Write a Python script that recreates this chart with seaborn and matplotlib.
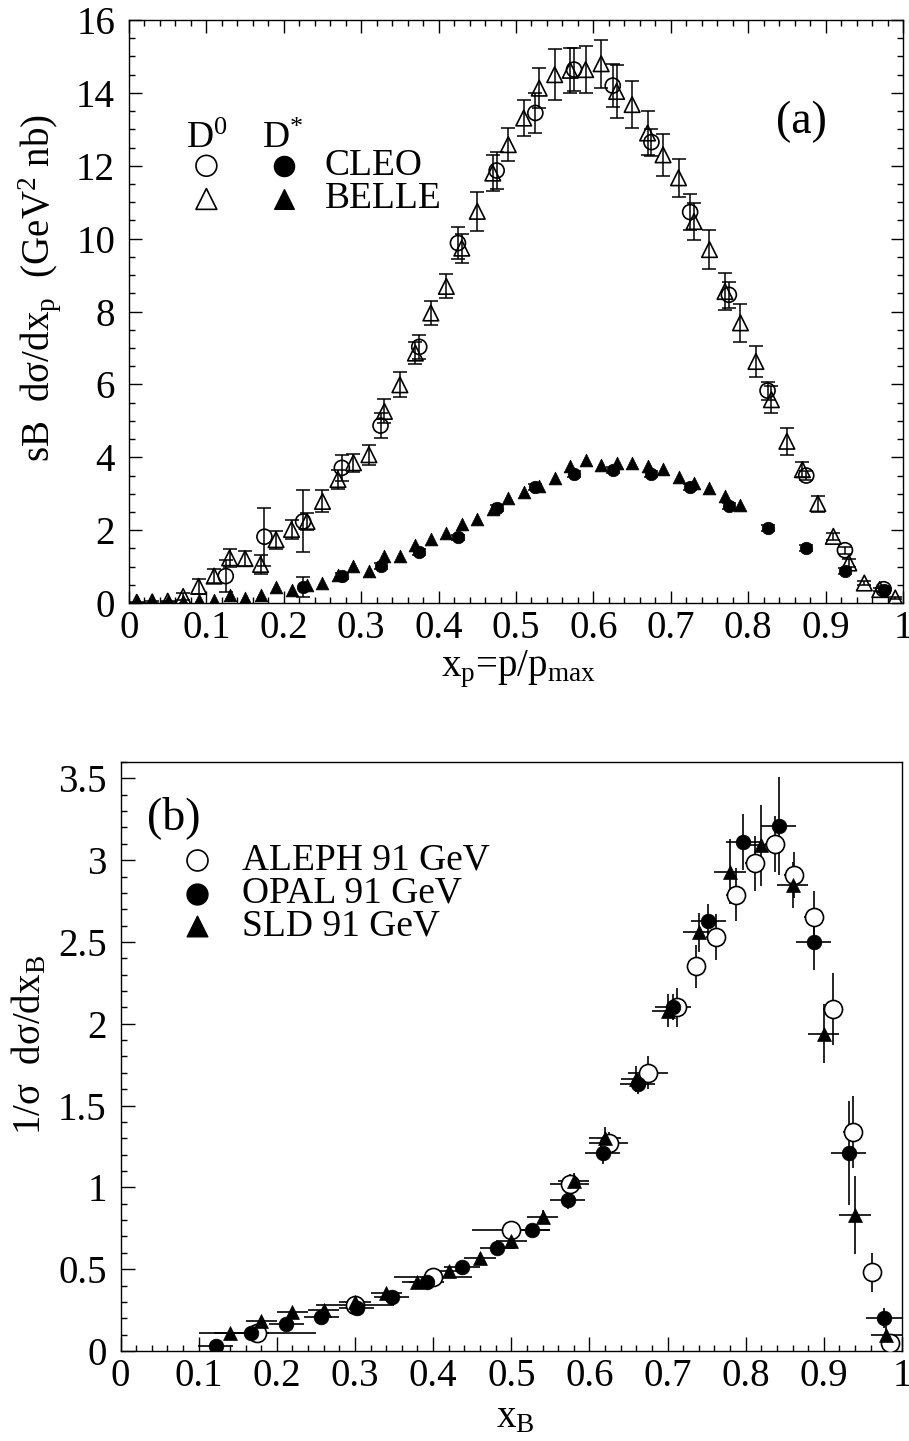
import numpy as np
import pandas as pd
import matplotlib
matplotlib.use("Agg")
import matplotlib.pyplot as plt
from matplotlib.ticker import MultipleLocator, FuncFormatter
import seaborn as sns

# ---------------------------------------------------------
# (a) charm fragmentation, CLEO / BELLE
# ---------------------------------------------------------
cleo_d0_x = [0.125, 0.175, 0.225, 0.275, 0.325, 0.375, 0.425, 0.475, 0.525,
             0.575, 0.625, 0.675, 0.725, 0.775, 0.825, 0.875, 0.925, 0.975]
cleo_d0_y = [0.74, 1.82, 2.24, 3.71, 4.87, 7.03, 9.88, 11.87, 13.45,
             14.64, 14.20, 12.65, 10.73, 8.46, 5.83, 3.50, 1.45, 0.38]
cleo_d0_err = [0.45, 0.80, 0.85, 0.35, 0.35, 0.32, 0.45, 0.50, 0.55,
               0.60, 0.60, 0.37, 0.50, 0.35, 0.25, 0.12, 0.10, 0.08]

belle_d0_x = [round(0.01 + 0.02 * i, 2) for i in range(50)]
belle_d0_y = [0.02, 0.03, 0.05, 0.18, 0.46, 0.74, 1.24, 1.22, 1.06, 1.74,
              2.02, 2.24, 2.79, 3.39, 3.85, 4.07, 5.26, 5.99, 6.86, 7.96,
              8.69, 9.74, 10.75, 11.80, 12.58, 13.31, 14.13, 14.50, 14.62, 14.64,
              14.80, 14.04, 13.68, 12.90, 12.30, 11.67, 10.47, 9.70, 8.55, 7.69,
              6.63, 5.58, 4.44, 3.66, 2.73, 1.83, 1.10, 0.55, 0.37, 0.14]
belle_d0_err = [0.02, 0.02, 0.02, 0.10, 0.20, 0.20, 0.25, 0.20, 0.25, 0.25,
                0.25, 0.23, 0.30, 0.25, 0.25, 0.27, 0.33, 0.34, 0.30, 0.32,
                0.33, 0.40, 0.54, 0.50, 0.46, 0.50, 0.55, 0.70, 0.62, 0.64,
                0.66, 0.73, 0.65, 0.60, 0.57, 0.52, 0.52, 0.53, 0.50, 0.52,
                0.42, 0.37, 0.37, 0.20, 0.22, 0.10, 0.10, 0.05, 0.05, 0.03]

cleo_ds_x = [0.225, 0.275, 0.325, 0.375, 0.425, 0.475, 0.525, 0.575,
             0.625, 0.675, 0.725, 0.775, 0.825, 0.875, 0.925, 0.975]
cleo_ds_y = [0.44, 0.74, 1.01, 1.40, 1.80, 2.61, 3.18, 3.55,
             3.66, 3.55, 3.18, 2.66, 2.06, 1.51, 0.89, 0.35]
cleo_ds_err = [0.28, 0.08, 0.08, 0.08, 0.08, 0.08, 0.08, 0.08,
               0.08, 0.08, 0.08, 0.08, 0.08, 0.08, 0.08, 0.05]

belle_ds_x = [round(0.01 + 0.02 * i, 2) for i in range(40)]
belle_ds_y = [0.05, 0.05, 0.05, 0.05, 0.08, 0.08, 0.23, 0.15, 0.23, 0.44,
              0.37, 0.50, 0.56, 0.78, 1.01, 0.87, 1.28, 1.28, 1.60, 1.76,
              1.93, 2.18, 2.32, 2.58, 2.87, 3.04, 3.20, 3.43, 3.75, 3.92,
              3.80, 3.85, 3.83, 3.75, 3.68, 3.45, 3.30, 3.16, 2.93, 2.68]

# ---------------------------------------------------------
# (b) b fragmentation at 91 GeV
# ---------------------------------------------------------
aleph_x = [0.175, 0.300, 0.400, 0.500, 0.575, 0.625, 0.675, 0.712, 0.737, 0.762,
           0.787, 0.812, 0.837, 0.862, 0.887, 0.912, 0.937, 0.962, 0.985]
aleph_y = [0.11, 0.28, 0.45, 0.74, 1.02, 1.27, 1.70, 2.10, 2.35, 2.53,
           2.79, 2.98, 3.10, 2.91, 2.65, 2.09, 1.34, 0.48, 0.05]
aleph_xerr = [0.075, 0.05, 0.05, 0.05, 0.025, 0.025, 0.025, 0.0125, 0.0125, 0.0125,
              0.0125, 0.0125, 0.0125, 0.0125, 0.0125, 0.0125, 0.0125, 0.0125, 0.0125]
aleph_yerr = [0.03, 0.03, 0.03, 0.05, 0.06, 0.07, 0.10, 0.12, 0.13, 0.14,
              0.16, 0.17, 0.17, 0.14, 0.16, 0.22, 0.22, 0.12, 0.03]

opal_x = [0.122, 0.167, 0.212, 0.257, 0.302, 0.347, 0.392, 0.437, 0.482, 0.527,
          0.572, 0.617, 0.662, 0.707, 0.752, 0.797, 0.842, 0.887, 0.932, 0.977]
opal_y = [0.03, 0.11, 0.165, 0.21, 0.26, 0.33, 0.42, 0.515, 0.63, 0.74,
          0.92, 1.21, 1.63, 2.10, 2.63, 3.11, 3.21, 2.50, 1.21, 0.20]
opal_yerr = [0.02, 0.02, 0.02, 0.02, 0.02, 0.02, 0.02, 0.02, 0.03, 0.03,
             0.05, 0.07, 0.06, 0.08, 0.10, 0.17, 0.30, 0.17, 0.32, 0.06]

sld_x = [0.14, 0.18, 0.22, 0.26, 0.30, 0.34, 0.38, 0.42, 0.46, 0.50, 0.54,
         0.58, 0.62, 0.66, 0.70, 0.74, 0.78, 0.82, 0.86, 0.90, 0.94, 0.98]
sld_y = [0.11, 0.185, 0.235, 0.25, 0.30, 0.357, 0.42, 0.49, 0.567, 0.675, 0.82,
         1.04, 1.30, 1.66, 2.08, 2.56, 2.93, 3.09, 2.85, 1.94, 0.83, 0.10]
sld_yerr = [0.02, 0.02, 0.02, 0.02, 0.02, 0.02, 0.02, 0.02, 0.03, 0.03, 0.04,
            0.05, 0.07, 0.08, 0.10, 0.12, 0.20, 0.25, 0.14, 0.18, 0.24, 0.05]

# ---------------------------------------------------------
# style
# ---------------------------------------------------------
sns.set_theme(style="ticks")
plt.rcParams["font.family"] = ["Liberation Serif", "DejaVu Serif"]
plt.rcParams["mathtext.fontset"] = "custom"
plt.rcParams["mathtext.rm"] = "Liberation Serif"
plt.rcParams["mathtext.it"] = "Liberation Serif:italic"
plt.rcParams["axes.linewidth"] = 1.0
for key in ["text.color", "axes.labelcolor", "axes.edgecolor", "xtick.color", "ytick.color"]:
    plt.rcParams[key] = "black"

FS = 28
LFS = 27
fmt = FuncFormatter(lambda v, p: "%g" % round(v, 3))

fig = plt.figure(figsize=(9.09, 14.41), dpi=100)
ax1 = fig.add_axes([0.1419, 0.5815, 0.8515, 0.4046])
ax2 = fig.add_axes([0.1326, 0.0625, 0.8597, 0.4087])


def frame(df_list):
    return [pd.DataFrame(d) for d in df_list]


# ---------------------------------------------------------
# panel (a)
# ---------------------------------------------------------
eb = dict(fmt="none", ecolor="black", elinewidth=1.1, capsize=5, capthick=1.1, zorder=2)
ax1.errorbar(belle_d0_x, belle_d0_y, yerr=belle_d0_err, **eb)
ax1.errorbar(cleo_d0_x, cleo_d0_y, yerr=cleo_d0_err, **eb)
ax1.errorbar(cleo_ds_x, cleo_ds_y, yerr=cleo_ds_err, **eb)

bd0, cd0, cds, bds = frame([
    {"x": belle_d0_x, "y": belle_d0_y},
    {"x": cleo_d0_x, "y": cleo_d0_y},
    {"x": cleo_ds_x, "y": cleo_ds_y},
    {"x": belle_ds_x, "y": belle_ds_y},
])
sns.scatterplot(data=bd0, x="x", y="y", marker="^", s=125, facecolor="none",
                edgecolor="black", linewidth=1.2, ax=ax1, legend=False, zorder=3)
sns.scatterplot(data=cd0, x="x", y="y", marker="o", s=117, facecolor="none",
                edgecolor="black", linewidth=1.2, ax=ax1, legend=False, zorder=3)
sns.scatterplot(data=bds, x="x", y="y", marker="^", s=85, color="black",
                edgecolor="black", linewidth=0.5, ax=ax1, legend=False, zorder=4)
sns.scatterplot(data=cds, x="x", y="y", marker="o", s=81, color="black",
                edgecolor="black", linewidth=0.5, ax=ax1, legend=False, zorder=4)

ax1.set_xlim(0, 1)
ax1.set_ylim(0, 16)
ax1.xaxis.set_major_locator(MultipleLocator(0.1))
ax1.xaxis.set_minor_locator(MultipleLocator(0.02))
ax1.yaxis.set_major_locator(MultipleLocator(2))
ax1.yaxis.set_minor_locator(MultipleLocator(0.5))
ax1.xaxis.set_major_formatter(fmt)
ax1.yaxis.set_major_formatter(fmt)
ax1.tick_params(which="both", direction="in", top=True, right=True, labelsize=FS, width=1.0)
ax1.tick_params(axis="x", which="both", pad=5)
ax1.tick_params(axis="y", which="both", pad=10)
ax1.tick_params(which="major", length=9)
ax1.tick_params(which="minor", length=4)

ax1.set_xlabel("x$_{\\rm p}$=p/p$_{\\rm max}$", fontsize=FS)
ax1.xaxis.set_label_coords(0.503, -0.078)
ax1.set_ylabel("sB  d\u03c3/dx$_{\\rm p}$  (GeV$^{2}$ nb)", fontsize=FS, va="center")
ax1.yaxis.set_label_coords(-0.115, 0.54)

# legend drawn by hand as in the original figure
ax1.text(0.100, 12.5, "D$^{0}$", fontsize=LFS, ha="center", va="baseline")
ax1.text(0.199, 12.5, "D$^{*}$", fontsize=LFS, ha="center", va="baseline")
ax1.scatter([0.100], [12.0], marker="o", s=225, facecolor="none", edgecolor="black", linewidth=1.2)
ax1.scatter([0.200], [12.0], marker="o", s=210, color="black")
ax1.scatter([0.100], [11.09], marker="^", s=225, facecolor="none", edgecolor="black", linewidth=1.2)
ax1.scatter([0.200], [11.09], marker="^", s=200, color="black")
ax1.text(0.253, 12.0, "CLEO", fontsize=LFS, ha="left", va="center")
ax1.text(0.253, 11.09, "BELLE", fontsize=LFS, ha="left", va="center")
ax1.text(0.869, 13.2, "(a)", fontsize=33, ha="center", va="center")

# ---------------------------------------------------------
# panel (b)
# ---------------------------------------------------------
eb2 = dict(fmt="none", ecolor="black", elinewidth=1.2, capsize=0, zorder=2)
ax2.errorbar(aleph_x, aleph_y, xerr=aleph_xerr, yerr=aleph_yerr, **eb2)
ax2.errorbar(opal_x, opal_y, xerr=0.0225, yerr=opal_yerr, **eb2)
ax2.errorbar(sld_x, sld_y, xerr=0.02, yerr=sld_yerr, **eb2)

al, op, sl = frame([
    {"x": aleph_x, "y": aleph_y},
    {"x": opal_x, "y": opal_y},
    {"x": sld_x, "y": sld_y},
])
sns.scatterplot(data=al, x="x", y="y", marker="o", s=169, color="white",
                edgecolor="black", linewidth=1.2, ax=ax2, legend=False, zorder=3)
sns.scatterplot(data=op, x="x", y="y", marker="o", s=112, color="black",
                edgecolor="black", linewidth=0.5, ax=ax2, legend=False, zorder=4)
sns.scatterplot(data=sl, x="x", y="y", marker="^", s=100, color="black",
                edgecolor="black", linewidth=0.5, ax=ax2, legend=False, zorder=4)

ax2.set_xlim(0, 1)
ax2.set_ylim(0, 3.6)
ax2.xaxis.set_major_locator(MultipleLocator(0.1))
ax2.xaxis.set_minor_locator(MultipleLocator(0.02))
ax2.yaxis.set_major_locator(MultipleLocator(0.5))
ax2.yaxis.set_minor_locator(MultipleLocator(0.1))
ax2.xaxis.set_major_formatter(fmt)
ax2.yaxis.set_major_formatter(fmt)
ax2.tick_params(which="both", direction="in", top=False, right=False, labelsize=FS, width=1.0)
ax2.tick_params(axis="x", which="both", pad=5)
ax2.tick_params(axis="y", which="both", pad=10)
ax2.tick_params(which="major", length=10)
ax2.tick_params(which="minor", length=4.5)

ax2.set_xlabel("x$_{\\rm B}$", fontsize=FS)
ax2.xaxis.set_label_coords(0.505, -0.082)
ax2.set_ylabel("1/\u03c3  d\u03c3/dx$_{\\rm B}$", fontsize=FS, va="center")
ax2.yaxis.set_label_coords(-0.116, 0.52)

ax2.text(0.068, 3.26, "(b)", fontsize=33, ha="center", va="center")
ax2.scatter([0.098], [3.0], marker="o", s=227, color="white", edgecolor="black", linewidth=1.2)
ax2.scatter([0.098], [2.795], marker="o", s=227, color="black")
ax2.scatter([0.098], [2.595], marker="^", s=220, color="black")
ax2.text(0.155, 3.0, "ALEPH 91 GeV", fontsize=LFS, ha="left", va="center")
ax2.text(0.155, 2.795, "OPAL 91 GeV", fontsize=LFS, ha="left", va="center")
ax2.text(0.155, 2.595, "SLD 91 GeV", fontsize=LFS, ha="left", va="center")

fig.savefig("out.png", dpi=100)
